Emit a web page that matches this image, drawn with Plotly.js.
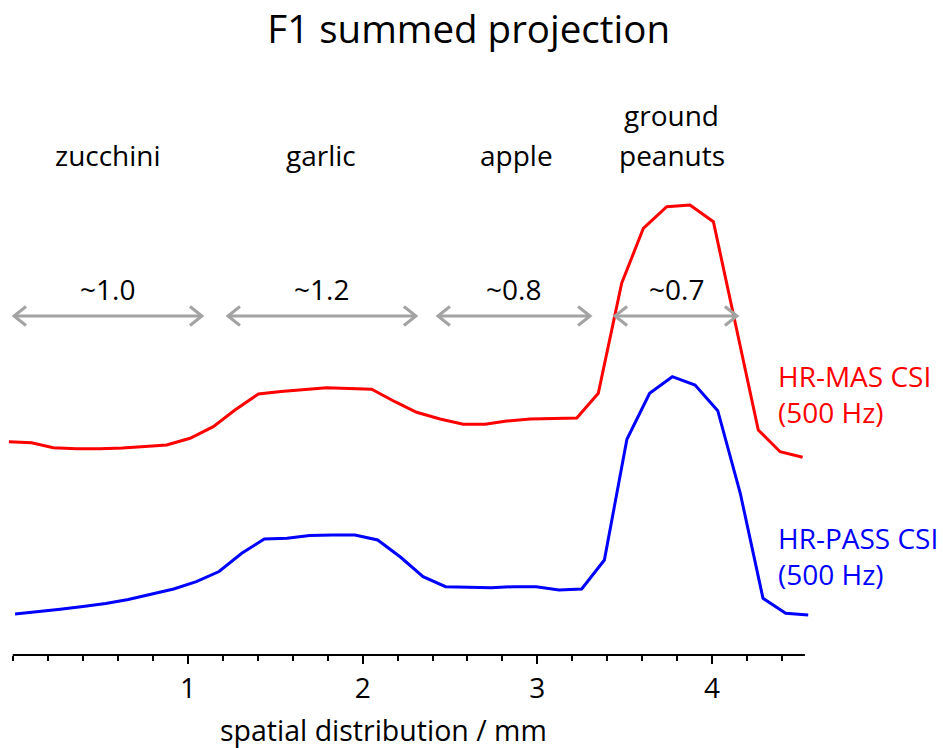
<!DOCTYPE html>
<html>
<head>
<meta charset="utf-8">
<script src="https://cdn.plot.ly/plotly-3.0.1.min.js"></script>
<style>
  html, body { margin: 0; padding: 0; background: #fff; }
  #chart { width: 943px; height: 748px; }
</style>
</head>
<body>
<div id="chart"></div>
<script>
// Position along the sample (mm) and summed F1 intensity (arbitrary units)
const masX = [-0.025, 0.105, 0.229, 0.363, 0.496, 0.625, 0.754, 0.878, 1.012, 1.145,
  1.269, 1.403, 1.533, 1.659, 1.794, 1.922, 2.052, 2.185, 2.309, 2.443,
  2.576, 2.701, 2.825, 2.958, 3.090, 3.226, 3.349, 3.483, 3.607, 3.741,
  3.874, 4.008, 4.137, 4.265, 4.390, 4.519];
const masY = [213.3, 212.3, 207.3, 206.3, 206.3, 207.0, 208.5, 210.0, 216.7, 228.3,
  245.0, 261.0, 263.5, 265.5, 267.3, 266.5, 265.7, 253.3, 242.7, 236.0,
  230.7, 230.7, 234.0, 236.0, 236.5, 237.0, 261.7, 371.7, 426.7, 448.3,
  450.0, 433.3, 329.0, 225.0, 203.3, 197.7];

const passX = [0.010, 0.140, 0.269, 0.399, 0.529, 0.658, 0.788, 0.918, 1.048, 1.178,
  1.308, 1.437, 1.567, 1.697, 1.826, 1.956, 2.086, 2.216, 2.346, 2.475,
  2.605, 2.735, 2.865, 2.994, 3.124, 3.254, 3.384, 3.513, 3.643, 3.773,
  3.903, 4.033, 4.162, 4.292, 4.422, 4.551];
const passY = [41.0, 43.0, 45.7, 48.5, 51.5, 55.5, 60.5, 66.0, 73.3, 83.5,
  101.7, 116.0, 116.7, 119.5, 120.0, 120.0, 115.0, 98.0, 78.3, 68.3,
  67.7, 67.3, 68.3, 68.3, 65.0, 66.0, 95.0, 215.7, 261.7, 278.3,
  270.0, 244.3, 161.7, 56.7, 41.7, 40.0];

// Sample compartments (one entry per text line) and their approximate widths (mm)
const sampleLines = ["zucchini", "garlic", "apple", "ground", "peanuts"];
const sampleLineX = [0.54, 1.76, 2.88, 3.77, 3.77];
const sampleLineY = [500, 500, 500, 540, 500];
const widthLabels = ["~1.0", "~1.2", "~0.8", "~0.7"];
const spanStart = [0.004, 1.229, 2.431, 3.445];
const spanEnd = [1.080, 2.305, 3.302, 4.143];

const tickValues = [1, 2, 3, 4];
const tickLabels = ["1", "2", "3", "4"];

const FONT = "Open Sans, Lato, sans-serif";
const GRAY = "#a3a3a3";
const LABEL_SIZE = 28;
const arrowY = 339;

const traces = [
  { x: masX, y: masY, type: "scatter", mode: "lines", name: "HR-MAS CSI",
    line: { color: "#ff0000", width: 3 }, hoverinfo: "x+y" },
  { x: passX, y: passY, type: "scatter", mode: "lines", name: "HR-PASS CSI",
    line: { color: "#0000ff", width: 3 }, hoverinfo: "x+y" }
];

const shapes = [
  // x axis baseline
  { type: "line", xref: "x", yref: "paper", x0: -0.003, x1: 4.532, y0: 0, y1: 0,
    line: { color: "#000", width: 2 } }
];
const annotations = [];

for (let i = 0; i < spanStart.length; i++) {
  shapes.push({ type: "line", xref: "x", yref: "y", x0: spanStart[i], x1: spanEnd[i],
    y0: arrowY, y1: arrowY, line: { color: GRAY, width: 3 } });
  shapes.push({ type: "path", xref: "x", yref: "y", xsizemode: "pixel", ysizemode: "pixel",
    xanchor: spanStart[i], yanchor: arrowY, path: "M12,9.5L0,0L12,-9.5",
    line: { color: GRAY, width: 3 } });
  shapes.push({ type: "path", xref: "x", yref: "y", xsizemode: "pixel", ysizemode: "pixel",
    xanchor: spanEnd[i], yanchor: arrowY, path: "M-12,9.5L0,0L-12,-9.5",
    line: { color: GRAY, width: 3 } });
  annotations.push({ text: widthLabels[i], xref: "x", yref: "y",
    x: (spanStart[i] + spanEnd[i]) / 2, y: 366, showarrow: false,
    xanchor: "center", yanchor: "middle", font: { family: FONT, size: LABEL_SIZE, color: "#000" } });
}

for (let i = 0; i < sampleLines.length; i++) {
  annotations.push({ text: sampleLines[i], xref: "x", yref: "y",
    x: sampleLineX[i], y: sampleLineY[i], showarrow: false,
    xanchor: "center", yanchor: "middle",
    font: { family: FONT, size: LABEL_SIZE, color: "#000" } });
}

// Series labels on the right
annotations.push({ text: "HR-MAS CSI<br>(500 Hz)", xref: "x", yref: "y", x: 4.367, y: 261,
  showarrow: false, xanchor: "left", yanchor: "middle", align: "left",
  font: { family: FONT, size: LABEL_SIZE, color: "#ff0000" } });
annotations.push({ text: "HR-PASS CSI<br>(500 Hz)", xref: "x", yref: "y", x: 4.367, y: 99,
  showarrow: false, xanchor: "left", yanchor: "middle", align: "left",
  font: { family: FONT, size: LABEL_SIZE, color: "#0000ff" } });

// Axis title
annotations.push({ text: "spatial distribution / mm", xref: "paper", yref: "paper",
  x: (383 - 4) / 808, y: -75 / 595, showarrow: false, xanchor: "center", yanchor: "middle",
  font: { family: FONT, size: 28.5, color: "#000" } });

const layout = {
  width: 943, height: 748,
  margin: { l: 4, r: 131, t: 60, b: 93 },
  paper_bgcolor: "#fff", plot_bgcolor: "#fff",
  showlegend: false,
  title: { text: "F1 summed projection", xref: "container", yref: "container",
    x: 0.497, y: 1 - 30 / 748, xanchor: "center", yanchor: "middle",
    font: { family: FONT, size: 38.5, color: "#000" } },
  xaxis: {
    range: [-0.0532, 4.5726], showgrid: false, zeroline: false, showline: false,
    tickmode: "array", tickvals: tickValues, ticktext: tickLabels,
    ticks: "outside", ticklen: 8, tickwidth: 2, tickcolor: "#000",
    tickfont: { family: FONT, size: 28, color: "#000" },
    minor: { tickmode: "linear", tick0: 0, dtick: 0.2, ticks: "outside", ticklen: 5,
      tickwidth: 2, tickcolor: "#000", showgrid: false }
  },
  yaxis: { range: [0, 595], visible: false, showgrid: false, zeroline: false, fixedrange: true },
  shapes: shapes,
  annotations: annotations
};

Plotly.newPlot("chart", traces, layout, { displayModeBar: false, staticPlot: true });
</script>
</body>
</html>
